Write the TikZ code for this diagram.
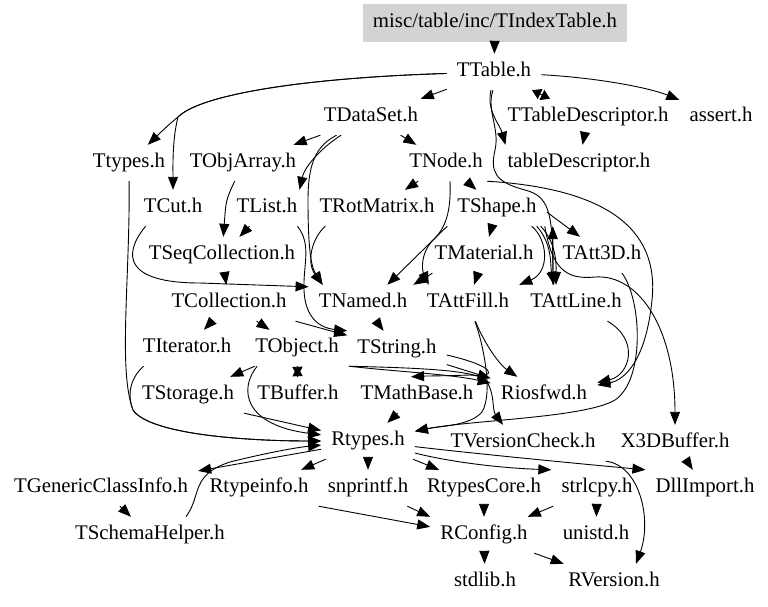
\documentclass[tikz,border=0pt]{standalone}
\usepackage{fontspec}
\setmainfont{Liberation Serif}
\usetikzlibrary{arrows.meta}
\definecolor{hdrgray}{RGB}{211,211,211}
\tikzset{
  nd/.style={inner xsep=10pt, inner ysep=0pt, minimum height=36pt, text height=14pt, text depth=5pt, font=\fontsize{20.8}{24}\selectfont},
  hdr/.style={nd, fill=hdrgray, minimum width=264pt, minimum height=38pt},
  edg/.style={draw=black, line width=0.9pt, -{Triangle[length=13pt,width=10pt]}},
  dbl/.style={draw=black, line width=0.9pt, {Triangle[length=9pt,width=11pt]}-{Triangle[length=9pt,width=11pt]}},
  shortedg/.style={draw=black, line width=0.9pt, -{Triangle[length=10pt,width=10pt]}},
}
\begin{document}
\begin{tikzpicture}[x=1pt,y=-1pt]
\fill[white] (0,0) rectangle (768,607);
\useasboundingbox (0,0) rectangle (768,607);
% nodes
\node[hdr] (idx) at (495,23) {misc/table/inc/TIndexTable.h};
\node[nd] (TTable) at (494,72) {TTable.h};
\node[nd] (TDataSet) at (371,117) {TDataSet.h};
\node[nd] (TTableDescriptor) at (588,117) {TTableDescriptor.h};
\node[nd] (assert) at (721,117) {assert.h};
\node[nd] (Ttypes) at (129,163) {Ttypes.h};
\node[nd] (TObjArray) at (243,163) {TObjArray.h};
\node[nd] (TNode) at (446,163) {TNode.h};
\node[nd] (tableDescriptor) at (579,163) {tableDescriptor.h};
\node[nd] (TCut) at (173,208) {TCut.h};
\node[nd] (TList) at (267,208) {TList.h};
\node[nd] (TRotMatrix) at (377,208) {TRotMatrix.h};
\node[nd] (TShape) at (497,208) {TShape.h};
\node[nd] (TSeqCollection) at (222,255) {TSeqCollection.h};
\node[nd] (TMaterial) at (484,255) {TMaterial.h};
\node[nd] (TAtt3D) at (602,255) {TAtt3D.h};
\node[nd] (TCollection) at (229,303) {TCollection.h};
\node[nd] (TNamed) at (363,303) {TNamed.h};
\node[nd] (TAttFill) at (468,303) {TAttFill.h};
\node[nd] (TAttLine) at (576,303) {TAttLine.h};
\node[nd] (TIterator) at (187,348) {TIterator.h};
\node[nd] (TObject) at (297,348) {TObject.h};
\node[nd] (TString) at (397,349) {TString.h};
\node[nd] (TStorage) at (188,395) {TStorage.h};
\node[nd] (TBuffer) at (298,395) {TBuffer.h};
\node[nd] (TMathBase) at (417,395) {TMathBase.h};
\node[nd] (Riosfwd) at (544,395) {Riosfwd.h};
\node[nd] (Rtypes) at (368,441) {Rtypes.h};
\node[nd] (TVersionCheck) at (523,443) {TVersionCheck.h};
\node[nd] (X3DBuffer) at (675,443) {X3DBuffer.h};
\node[nd] (TGenericClassInfo) at (101,488) {TGenericClassInfo.h};
\node[nd] (Rtypeinfo) at (259,488) {Rtypeinfo.h};
\node[nd] (snprintf) at (368,488) {snprintf.h};
\node[nd] (RtypesCore) at (484,488) {RtypesCore.h};
\node[nd] (strlcpy) at (597,488) {strlcpy.h};
\node[nd] (DllImport) at (705,488) {DllImport.h};
\node[nd] (TSchemaHelper) at (150,535) {TSchemaHelper.h};
\node[nd] (RConfig) at (484,535) {RConfig.h};
\node[nd] (unistd) at (596,535) {unistd.h};
\node[nd] (stdlib) at (485,582) {stdlib.h};
\node[nd] (RVersion) at (614,582) {RVersion.h};
% edges
\draw[edg] (idx) -- (TTable);
\draw[edg] (TTable) -- (TDataSet);
\draw[edg] (TTable) .. controls (300,78) and (200,95) .. (178,117) .. controls (168,125) and (158,135) .. (Ttypes);
\draw[edg] (TTable) .. controls (300,78) and (200,95) .. (178,117) .. controls (172,140) and (173,170) .. (TCut);
\draw[dbl] (TTable) -- (TTableDescriptor);
\draw[edg] (TTable) .. controls (600,78) and (650,88) .. (assert);
\draw[edg] ([xshift=-3pt]TTable.south) .. controls (486,110) and (500,125) .. ([xshift=8pt]tableDescriptor.north west);
\draw[edg] ([xshift=-1pt]TTable.south) .. controls (486,110) and (500,128) .. (495,150) .. controls (490,172) and (495,182) .. (525,190) .. controls (548,196) and (553,210) .. ([xshift=-23pt]TAttLine.north);
\draw[edg] (TTableDescriptor) -- (tableDescriptor);
\draw[edg] (TDataSet) -- (TObjArray);
\draw[edg] (TDataSet) .. controls (325,145) and (305,165) .. ([xshift=-8pt]TList.north east);
\draw[edg] (TDataSet) -- (TNode);
\draw[edg] (TDataSet) .. controls (318,145) and (308,160) .. (308,200) .. controls (308,255) and (312,268) .. ([xshift=14pt]TNamed.north west);
\draw[edg] ([xshift=16pt]TRotMatrix.south west) .. controls (312,238) and (306,262) .. ([xshift=14pt]TNamed.north west);
\draw[edg] ([xshift=-10pt]TList.south east) .. controls (312,245) and (303,265) .. (304,290) .. controls (305,318) and (320,328) .. (TString.north west);
\draw[edg] ([xshift=12pt]TCut.south west) .. controls (122,255) and (125,283) .. (200,283) -- ([yshift=-2pt]TNamed.north west);
\draw[edg] (TObjArray) .. controls (226,200) .. (TSeqCollection);
\draw[edg] (TList) -- (TSeqCollection);
\draw[edg] (TSeqCollection) -- (TCollection);
\draw[edg] (TCollection) -- (TIterator);
\draw[edg] (TCollection) -- (TObject);
\draw[edg] (TCollection) -- (TString);
\draw[edg] (TNamed) -- (TString);
\draw[shortedg] (TObject) -- (TBuffer);
\draw[shortedg] (TBuffer) -- (TObject);
\draw[edg] (TObject) -- (TStorage);
\draw[edg] ([xshift=12pt]TObject.south west) .. controls (238,390) and (245,425) .. (Rtypes);
\draw[edg] (TStorage.south east) -- (Rtypes);
\draw[edg] (Ttypes) .. controls (130,280) and (118,370) .. (133,410) .. controls (150,435) and (250,441) .. (Rtypes);
\draw[edg] ([xshift=11pt]TIterator.south west) .. controls (128,380) and (128,398) .. (133,410) .. controls (150,435) and (250,441) .. (Rtypes);
\draw[edg] (TObject.south east) .. controls (400,372) and (450,374) .. (Riosfwd);
\draw[edg] (TString) -- (Riosfwd);
\draw[edg] ([yshift=-6pt]TString.east) .. controls (495,366) and (500,378) .. (470,375) .. controls (440,376) and (425,376) .. ([xshift=-6pt]TMathBase.north);
\draw[edg] (TMathBase) -- (Rtypes);
\draw[edg] (TAttFill) .. controls (485,345) and (500,365) .. (Riosfwd);
\draw[edg] (TAttFill) .. controls (482,340) and (494,392) .. (482,412) .. controls (470,426) and (440,426) .. (Rtypes);
\draw[edg] (TAttLine) .. controls (640,340) and (630,375) .. (Riosfwd);
\draw[edg] ([xshift=-6pt]TNode.south east) .. controls (600,188) and (660,225) .. (652,300) .. controls (646,360) and (625,380) .. (Riosfwd);
\draw[edg] (TObject.south east) .. controls (420,368) and (480,370) .. (487,382) .. controls (495,395) and (492,410) .. ([xshift=-20pt]TVersionCheck.north);
\draw[edg] (TNode) -- (TRotMatrix);
\draw[edg] (TNode) -- (TShape);
\draw[edg] ([xshift=4pt]TNode.south) .. controls (451,205) and (448,225) .. (435,238) .. controls (420,252) and (422,270) .. ([xshift=12pt]TAttFill.north west);
\draw[edg] ([yshift=-4pt]TShape.east) -- ([xshift=-22pt]TAtt3D.north);
\draw[edg] (TShape) -- (TMaterial);
\draw[edg] ([xshift=-15pt]TShape.south east) .. controls (548,240) and (550,272) .. (TAttFill.north east);
\draw[edg] ([xshift=-10pt]TShape.south east) .. controls (553,245) and (550,265) .. ([xshift=-22pt]TAttLine.north);
\draw[edg] ([xshift=-6pt]TShape.south east) .. controls (558,245) and (556,268) .. ([xshift=-20pt]TAttLine.north);
\draw[edg] ([xshift=-23pt]TAttLine.north) -- ([xshift=6pt]TShape.south east);
\draw[edg] ([xshift=-2pt]TShape.south east) .. controls (552,268) and (565,280) .. (595,277) .. controls (640,274) and (675,330) .. (X3DBuffer);
\draw[edg] ([xshift=20pt]TAtt3D.south) .. controls (642,300) and (645,380) .. (615,400) .. controls (585,418) and (470,420) .. (Rtypes);
\draw[edg] (TShape.south west) -- ([xshift=-30pt]TNamed.north east);
\draw[edg] (TMaterial) -- (TAttFill);
\draw[edg] ([xshift=8pt]TMaterial.south west) -- ([xshift=-4pt]TNamed.north east);
\draw[edg] (Rtypes) -- (TGenericClassInfo);
\draw[edg] ([xshift=-49pt]TSchemaHelper.north east) .. controls (202,495) and (190,475) .. (230,462) .. controls (270,452) and (300,447) .. (Rtypes);
\draw[edg] (TGenericClassInfo) -- (TSchemaHelper);
\draw[edg] (Rtypes) -- (Rtypeinfo);
\draw[edg] (Rtypes) -- (snprintf);
\draw[edg] (Rtypes) -- (RtypesCore);
\draw[edg] (Rtypes) .. controls (450,462) and (500,468) .. (strlcpy.north west);
\draw[edg] (Rtypes) .. controls (460,452) and (560,462) .. (DllImport.north west);
\draw[edg] (TVersionCheck.south east) .. controls (640,465) and (652,520) .. ([xshift=22pt]RVersion.north);
\draw[edg] (X3DBuffer) -- (DllImport);
\draw[edg] (snprintf) -- (RConfig.north west);
\draw[edg] (Rtypeinfo.south east) -- ([yshift=-10pt]RConfig.north west);
\draw[edg] (RtypesCore) -- (RConfig);
\draw[edg] (strlcpy) -- (RConfig);
\draw[edg] (strlcpy) -- (unistd);
\draw[edg] (RConfig) -- (stdlib);
\draw[edg] (RConfig) -- (RVersion);
\end{tikzpicture}
\end{document}
